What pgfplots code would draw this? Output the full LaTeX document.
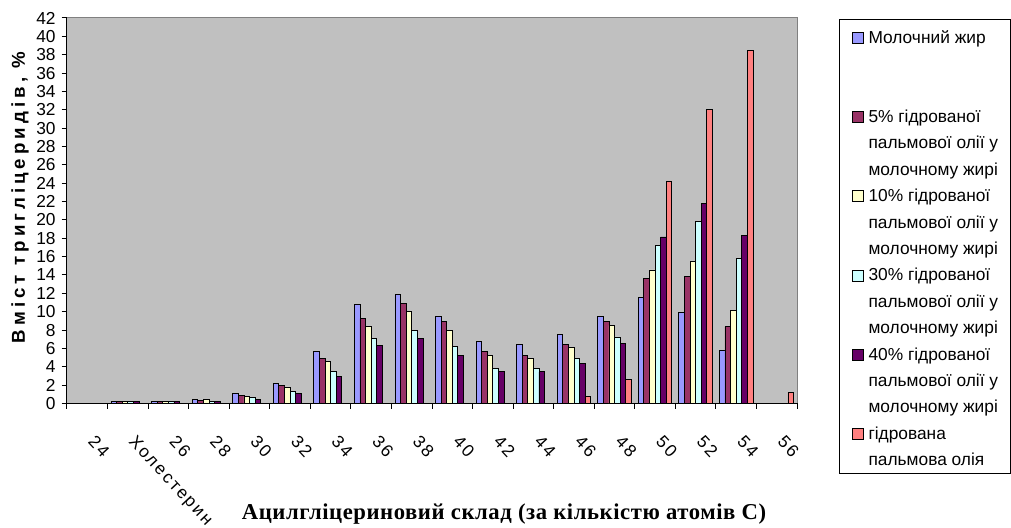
\documentclass[border=0pt]{standalone}
\usepackage{fontspec}
\setmainfont{Liberation Sans}
\newfontfamily\xlabfont[LetterSpace=2.5]{Liberation Serif}
\newfontfamily\ylabfont[LetterSpace=22]{Liberation Sans}
\newfontfamily\xtickfont[LetterSpace=12]{Liberation Sans}
\usepackage{pgfplots}
\pgfplotsset{compat=1.18}
\definecolor{s1}{HTML}{9999FF}
\definecolor{s2}{HTML}{993366}
\definecolor{s3}{HTML}{FFFFCC}
\definecolor{s4}{HTML}{CCFFFF}
\definecolor{s5}{HTML}{660066}
\definecolor{s6}{HTML}{FF8080}
\definecolor{bggray}{HTML}{C0C0C0}
\definecolor{framegray}{HTML}{808080}
\pgfplotsset{
  sq/.style={draw=black, line width=0.6pt,
    legend image code/.code={\draw[##1,/tikz/.cd,draw=black,line width=0.6pt] (0pt,0pt) rectangle (8.25pt,8.25pt); \path[draw=none,fill=none] (0pt,-5.94pt) rectangle (12pt,13.86pt);}},
  emptyrow/.style={legend image code/.code={\path[draw=none,fill=none] (0pt,-5.94pt) rectangle (12pt,13.86pt);}},
  lastrow/.style={legend image code/.code={\path[draw=none,fill=none] (0pt,-2pt) rectangle (12pt,13.86pt);}}
}
\begin{document}
\begin{tikzpicture}
\useasboundingbox (0,0) rectangle (758.25pt,396pt);
\begin{axis}[
  at={(50.25pt,93.375pt)}, anchor=south west,
  scale only axis, width=547.5pt, height=289.125pt,
  ybar=0pt, bar width=4.2pt,
  xmin=-0.5, xmax=17.5, ymin=0, ymax=42,
  axis x line*=bottom, axis y line*=left,
  axis line style={-, black, line width=0.75pt},
  axis background/.style={fill=bggray, draw=framegray, line width=0.75pt},
  xtick={-0.5,0.5,...,17.5},
  x tick label as interval,
  xticklabels={24,Холестерин,26,28,30,32,34,36,38,40,42,44,46,48,50,52,54,56},
  ytick={0,2,...,42},
  tick align=outside,
  major tick length=4pt,
  tick style={black, line width=0.75pt},
  /pgf/number format/assume math mode=true,
  yticklabel style={font=\fontsize{13}{15}\selectfont, xshift=-1pt},
  xticklabel style={font=\xtickfont\fontsize{13}{15}\selectfont, inner sep=0pt, xshift=6.75pt, yshift=-19pt, rotate=-47, anchor=north west},
  ylabel={\ylabfont\bfseries\fontsize{14}{16}\selectfont Вміст тригліцеридів, \%},
  every axis y label/.style={at={(axis description cs:-0.0644,0.5344)}, rotate=90, anchor=center},
  xlabel={\xlabfont\bfseries\fontsize{17}{20}\selectfont Ацилгліцериновий склад (за кількістю атомів С)},
  every axis x label/.style={at={(axis description cs:0.5986,-0.2866)}, anchor=center},
  legend style={at={(axis description cs:1.0575,0.9974)}, anchor=north west,
    draw=black, line width=0.75pt, fill=white, inner xsep=9.5pt, inner ysep=4pt,
    font=\fontsize{13}{19.8}\selectfont, row sep=0pt,
    cells={anchor=base west},
    nodes={inner sep=0pt}},
]
\addplot[sq, fill=s1, bar shift=-10.5pt] coordinates {(1,0.2) (2,0.2) (3,0.45) (4,1.1) (5,2.2) (6,5.7) (7,10.75) (8,11.85) (9,9.45) (10,6.75) (11,6.4) (12,7.5) (13,9.45) (14,11.6) (15,9.95) (16,5.8)};
\addlegendentry{Молочний жир}
\addlegendimage{emptyrow}\addlegendentry{}
\addlegendimage{emptyrow}\addlegendentry{}
\addplot[sq, fill=s2, bar shift=-6.3pt] coordinates {(1,0.2) (2,0.2) (3,0.35) (4,0.9) (5,2.0) (6,4.9) (7,9.25) (8,10.9) (9,8.9) (10,5.65) (11,5.25) (12,6.4) (13,8.9) (14,13.6) (15,13.8) (16,8.35)};
\addlegendentry{5\% гідрованої}
\addlegendimage{emptyrow}\addlegendentry{пальмової олії у}
\addlegendimage{emptyrow}\addlegendentry{молочному жирі}
\addplot[sq, fill=s3, bar shift=-2.1pt] coordinates {(1,0.2) (2,0.2) (3,0.45) (4,0.8) (5,1.8) (6,4.55) (7,8.35) (8,10.0) (9,8.0) (10,5.25) (11,4.9) (12,6.15) (13,8.5) (14,14.55) (15,15.45) (16,10.15)};
\addlegendentry{10\% гідрованої}
\addlegendimage{emptyrow}\addlegendentry{пальмової олії у}
\addlegendimage{emptyrow}\addlegendentry{молочному жирі}
\addplot[sq, fill=s4, bar shift=2.1pt] coordinates {(1,0.2) (2,0.2) (3,0.25) (4,0.7) (5,1.3) (6,3.45) (7,7.05) (8,8.0) (9,6.2) (10,3.85) (11,3.85) (12,4.9) (13,7.25) (14,17.25) (15,19.8) (16,15.8)};
\addlegendentry{30\% гідрованої}
\addlegendimage{emptyrow}\addlegendentry{пальмової олії у}
\addlegendimage{emptyrow}\addlegendentry{молочному жирі}
\addplot[sq, fill=s5, bar shift=6.3pt] coordinates {(1,0.2) (2,0.2) (3,0.25) (4,0.45) (5,1.1) (6,2.9) (7,6.35) (8,7.05) (9,5.25) (10,3.45) (11,3.45) (12,4.35) (13,6.5) (14,18.15) (15,21.8) (16,18.3)};
\addlegendentry{40\% гідрованої}
\addlegendimage{emptyrow}\addlegendentry{пальмової олії у}
\addlegendimage{emptyrow}\addlegendentry{молочному жирі}
\addplot[sq, fill=s6, bar shift=10.5pt] coordinates {(12,0.75) (13,2.65) (14,24.25) (15,32.0) (16,38.5) (17,1.25)};
\addlegendentry{гідрована}
\addlegendimage{lastrow}\addlegendentry{пальмова олія}
\end{axis}
\end{tikzpicture}
\end{document}
